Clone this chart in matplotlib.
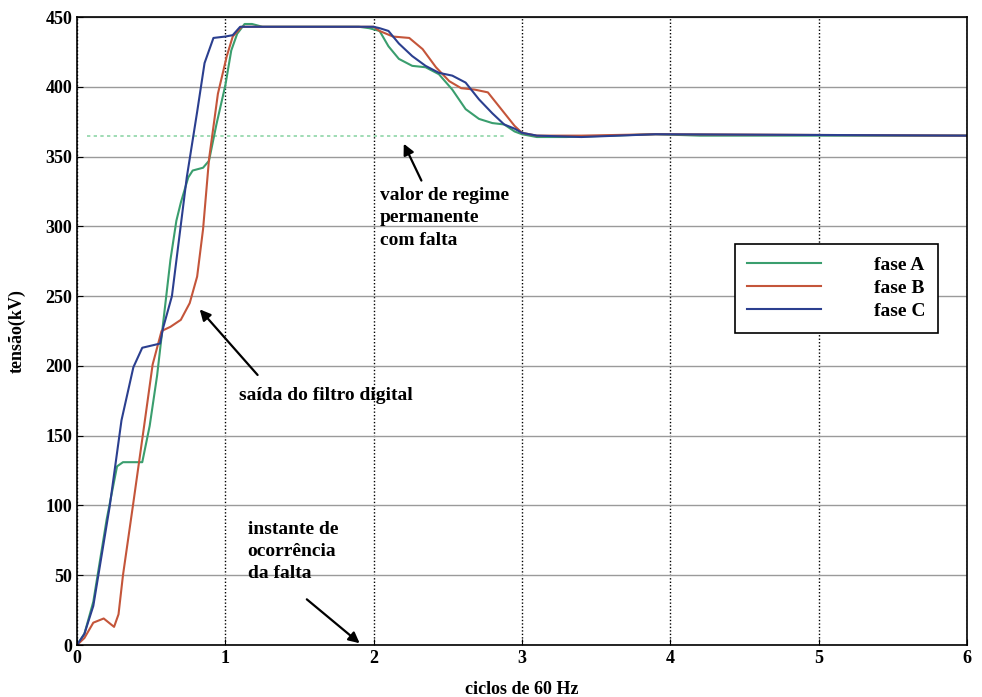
import numpy as np
import matplotlib
matplotlib.use("Agg")
import matplotlib.pyplot as plt

plt.rcParams['font.family'] = ['Liberation Serif', 'DejaVu Serif']
plt.rcParams['font.weight'] = 'bold'

# fase A (verde)
t_a = [0, 0.05, 0.11, 0.20, 0.27, 0.31, 0.44, 0.49, 0.54, 0.58, 0.63, 0.67, 0.70,
       0.75, 0.78, 0.85, 0.89, 0.94, 1.00, 1.04, 1.08, 1.13, 1.18, 1.25, 1.5, 1.9,
       1.97, 2.04, 2.10, 2.17, 2.26, 2.35, 2.44, 2.53, 2.62, 2.71, 2.80, 2.88, 2.95,
       3.0, 3.1, 3.3, 3.6, 3.9, 4.2, 6.0]
v_a = [0, 8, 31, 90, 128, 131, 131, 157, 193, 230, 276, 304, 317,
       335, 340, 342, 347, 373, 401, 426, 438, 445, 445, 443, 443, 443,
       442, 440, 429, 420, 415, 414, 409, 398, 384, 377, 374, 373, 368,
       366, 364, 364, 365, 366, 365, 365]

# fase B (vermelho)
t_b = [0, 0.05, 0.11, 0.18, 0.25, 0.28, 0.31, 0.38, 0.45, 0.51, 0.57, 0.63, 0.70,
       0.76, 0.81, 0.85, 0.89, 0.95, 1.01, 1.05, 1.11, 1.2, 1.5, 2.0, 2.04, 2.13,
       2.24, 2.33, 2.42, 2.51, 2.59, 2.68, 2.77, 2.86, 2.95, 3.0, 3.1, 3.4, 3.9, 6.0]
v_b = [0, 5, 16, 19, 13, 22, 50, 102, 155, 201, 225, 228, 233,
       245, 264, 298, 348, 395, 422, 436, 443, 443, 443, 443, 440, 436,
       435, 427, 414, 404, 399, 398, 396, 384, 372, 367, 365, 365, 366, 365]

# fase C (azul)
t_c = [0, 0.05, 0.11, 0.22, 0.30, 0.38, 0.44, 0.56, 0.58, 0.64, 0.74, 0.81, 0.86,
       0.92, 1.0, 1.05, 1.1, 1.2, 1.5, 2.0, 2.04, 2.10, 2.17, 2.26, 2.35, 2.44,
       2.53, 2.62, 2.71, 2.80, 2.88, 2.95, 3.0, 3.1, 3.4, 3.9, 6.0]
v_c = [0, 8, 28, 99, 161, 199, 213, 216, 227, 250, 335, 382, 417,
       435, 436, 437, 443, 443, 443, 443, 442, 440, 431, 422, 415, 410,
       408, 403, 391, 381, 373, 370, 367, 365, 364, 366, 365]

# valor de regime permanente com falta
v_regime = 365
t_regime = [0.07, 2.9]

fig = plt.figure(figsize=(9.82, 6.97), dpi=100)
ax = fig.add_axes([0.0784, 0.0746, 0.9063, 0.901])

ax.plot(t_regime, [v_regime, v_regime], color='#8fd6a8', lw=1.2, linestyle=(0, (2, 2)))
ax.plot(t_a, v_a, color='#3a9e6e', lw=1.5, label='fase A')
ax.plot(t_b, v_b, color='#c4553a', lw=1.5, label='fase B')
ax.plot(t_c, v_c, color='#2b3f8f', lw=1.5, label='fase C')

ax.set_xlim(0, 6)
ax.set_ylim(0, 450)
ax.set_xticks(range(0, 7))
ax.set_yticks(range(0, 451, 50))
ax.tick_params(direction='in', length=4, labelsize=13)
for lab in ax.get_xticklabels() + ax.get_yticklabels():
    lab.set_fontweight('bold')

ax.grid(axis='y', color='#9a9a9a', lw=1.0, linestyle='-')
ax.grid(axis='x', color='black', lw=1.0, linestyle=(0, (1, 1.5)))
ax.set_axisbelow(True)
for s in ax.spines.values():
    s.set_linewidth(1.2)

ax.set_xlabel('ciclos de 60 Hz', fontsize=13, fontweight='bold', labelpad=10)
ax.set_ylabel('tensão(kV)', fontsize=13, fontweight='bold', labelpad=14)

leg = ax.legend(loc='upper left', bbox_to_anchor=(0.739, 0.639), borderaxespad=0,
                fancybox=False, edgecolor='black', framealpha=1,
                handlelength=3.8, handletextpad=2.7, borderpad=0.65, labelspacing=0.28,
                prop={'weight': 'bold', 'size': 14})
leg.get_frame().set_linewidth(1.2)

arrow = dict(arrowstyle='-|>', color='black', lw=1.6, mutation_scale=16)
ax.text(2.04, 328, 'valor de regime\npermanente\ncom falta', fontsize=14,
        fontweight='bold', va='top', ha='left', linespacing=1.4)
ax.annotate('', xy=(2.195, 361), xytext=(2.33, 331), arrowprops=arrow)

ax.text(1.09, 179, 'saída do filtro digital', fontsize=14, fontweight='bold',
        va='center', ha='left')
ax.annotate('', xy=(0.815, 242), xytext=(1.23, 192), arrowprops=arrow)

ax.text(1.15, 89, 'instante de\nocorrência\nda falta', fontsize=14,
        fontweight='bold', va='top', ha='left', linespacing=1.4)
ax.annotate('', xy=(1.92, 0), xytext=(1.535, 34), arrowprops=arrow)

fig.savefig('out.png', dpi=100)
